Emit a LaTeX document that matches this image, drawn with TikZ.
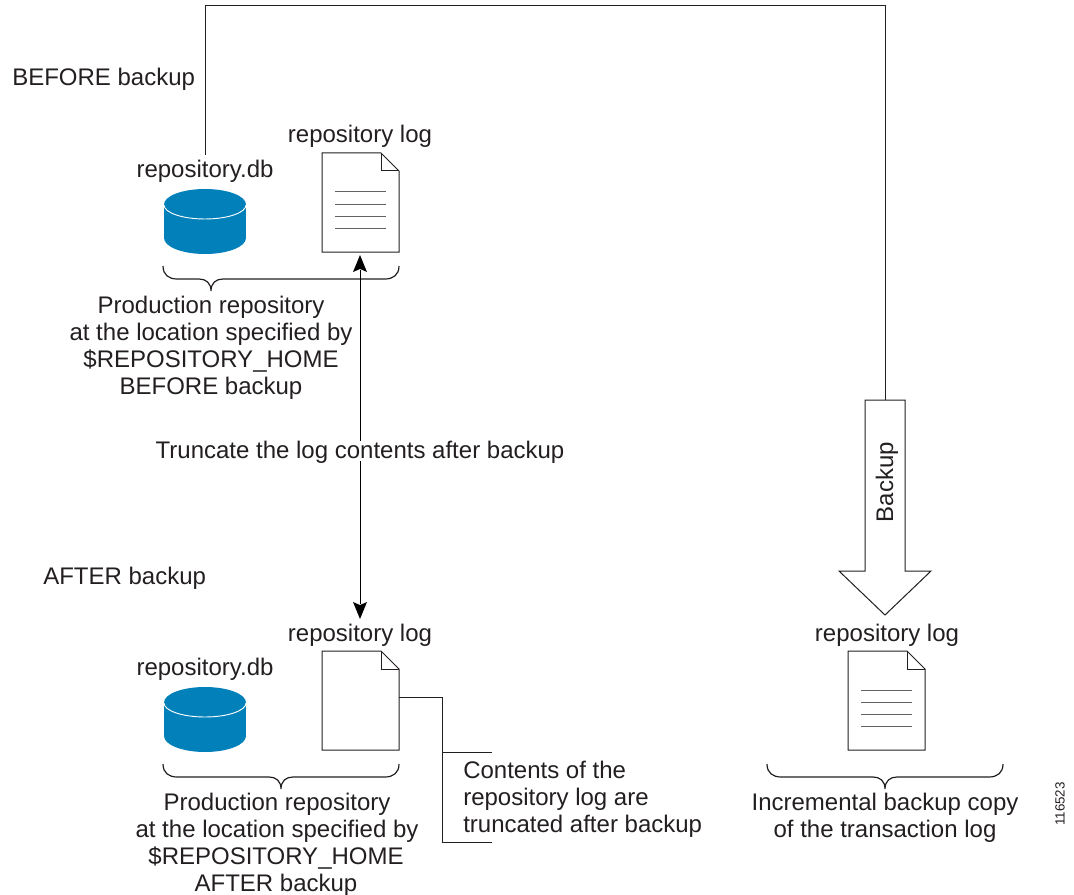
\documentclass[tikz,border=0pt]{standalone}
\usepackage{fontspec}
\setmainfont{Liberation Sans}
\definecolor{dbblue}{HTML}{0180BA}
\definecolor{inkc}{HTML}{231F20}
\tikzset{
  x=0.75pt,y=-0.75pt,
  lbl/.style={font=\fontsize{18pt}{20pt}\selectfont,text=inkc,inner sep=0pt,anchor=base},
  lbll/.style={lbl,anchor=base west},
  ln/.style={draw=inkc,line width=0.75pt},
  brc/.style={draw=inkc,line width=0.9pt},
  tip/.style={fill=black,draw=none},
}
\newcommand{\logdoc}[2]{%
  \draw[ln,fill=white,line join=miter] (#1,#2) -- ++(59,0) -- ++(18,18) -- ++(0,81) -- ++(-77,0) -- cycle;
  \draw[ln] (#1+59,#2) -- ++(0,18) -- ++(18,0);
}
\newcommand{\loglines}[2]{%
  \foreach \k in {39,51,63,75}{\draw[ln,draw=inkc!70] (#1+13,#2+\k) -- ++(51,0);}
}
\newcommand{\dbcyl}[2]{%
  \fill[dbblue] (#1+41,#2+49) ellipse[x radius=41,y radius=16];
  \fill[dbblue] (#1,#2+16) rectangle (#1+82,#2+49);
  \fill[dbblue] (#1+41,#2+15.5) ellipse[x radius=41,y radius=15.5];
  \draw[white,line width=0.7pt] (#1,#2+16) arc[start angle=180,end angle=0,x radius=41,y radius=14];
}
\newcommand{\hbrace}[4]{% left, right, tip x, top y
  \draw[brc] (#1,#4) .. controls (#1,#4+9) and (#1+6,#4+13) .. (#1+14,#4+13) -- (#3-12,#4+13)
    .. controls (#3-5,#4+13) and (#3,#4+17) .. (#3,#4+25)
    .. controls (#3,#4+17) and (#3+5,#4+13) .. (#3+12,#4+13) -- (#2-14,#4+13)
    .. controls (#2-6,#4+13) and (#2,#4+9) .. (#2,#4);
}
\begin{document}
\begin{tikzpicture}
\useasboundingbox (0,0) rectangle (1074,895);
\coordinate (ctop) at (205,155);
\coordinate (cbr) at (205,6);
\coordinate (cbl) at (885,6);
\coordinate (bkt) at (885,400);
\draw[ln] (ctop) -- (cbr) -- (cbl) -- (bkt);
% block arrow
\draw[ln,fill=white,miter limit=10] (865,400) -- (905,400) -- (905,571) -- (931,571) -- (885,615) -- (839,571) -- (865,571) -- cycle;
\node[lbl,rotate=90,anchor=base] (bk) at (893,482) {Backup};
% upper group
\dbcyl{164}{189}
\logdoc{322}{153}
\loglines{322}{153}
\hbrace{163}{399}{211}{266}
% lower group
\dbcyl{164}{687}
\logdoc{322}{651}
\hbrace{163}{399}{281}{764}
% right group
\logdoc{848}{651}
\loglines{848}{651}
\hbrace{767}{1003}{885}{764}
% double arrow
\coordinate (au) at (360,270);
\coordinate (ad) at (360,604);
\draw[line width=0.75pt,black] (au) -- (ad);
\fill[tip] (360,255) -- (367,272) -- (360,269) -- (353,272) -- cycle;
\fill[tip] (360,619) -- (367,602) -- (360,605) -- (353,602) -- cycle;
% callout
\coordinate (c0) at (399,697);
\coordinate (c1) at (442,697);
\coordinate (c2) at (442,842);
\coordinate (c3) at (492,842);
\coordinate (c4) at (442,752);
\coordinate (c5) at (492,752);
\draw[ln] (c0) -- (c1) -- (c2) -- (c3);
\draw[ln] (c4) -- (c5);
% labels
\node[lbll] (t1) at (12,86) {BEFORE backup};
\node[lbll] (t2) at (43,584) {AFTER backup};
\node[lbl] (t3) at (205,177) {repository.db};
\node[lbl] (t4) at (360,143) {repository log};
\node[lbl] (t5) at (211,313) {Production repository};
\node[lbl] (t6) at (211,340) {at the location specified by};
\node[lbl] (t7) at (211,367) {\$REPOSITORY\_HOME};
\node[lbl] (t8) at (211,394) {BEFORE backup};
\node[lbl,fill=white,text depth=2pt,inner ysep=0pt] (t9) at (360,458) {Truncate the log contents after backup};
\node[lbl] (t10) at (360,641) {repository log};
\node[lbl] (t11) at (205,675) {repository.db};
\node[lbl] (t12) at (277,810) {Production repository};
\node[lbl] (t13) at (277,837) {at the location specified by};
\node[lbl] (t14) at (276,864) {\$REPOSITORY\_HOME};
\node[lbl] (t15) at (276,891) {AFTER backup};
\node[lbll] (t16) at (463,778) {Contents of the};
\node[lbll] (t17) at (463,805) {repository log are};
\node[lbll] (t18) at (463,832) {truncated after backup};
\node[lbl] (t19) at (887,641) {repository log};
\node[lbl] (t20) at (885,810) {Incremental backup copy};
\node[lbl] (t21) at (885,837) {of the transaction log};
\node[lbl,font=\fontsize{10pt}{12pt}\selectfont,rotate=90] (t22) at (1064.5,804) {116523};
\end{tikzpicture}
\end{document}
